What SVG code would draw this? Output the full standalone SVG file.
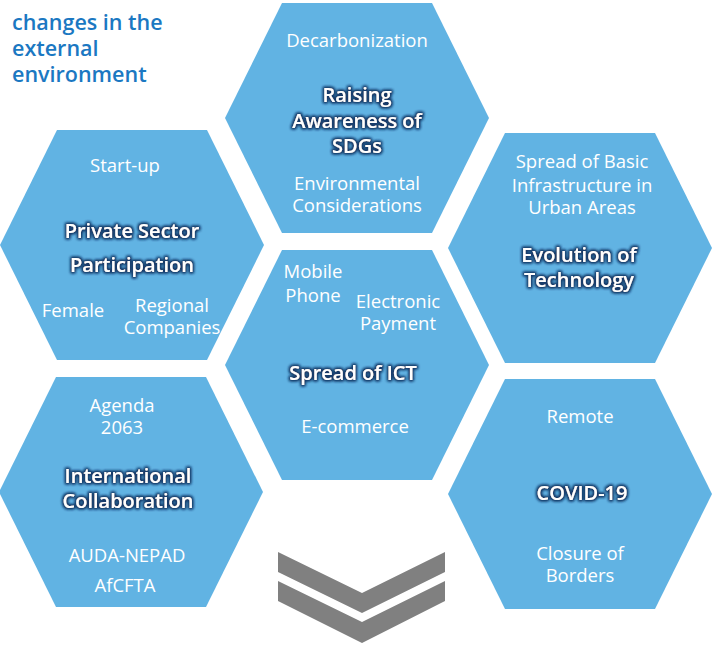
<svg xmlns="http://www.w3.org/2000/svg" width="714" height="645" viewBox="0 0 714 645">
<style>
.hex{fill:#61B3E3;}
.sub{font-family:"Open Sans","Liberation Sans",sans-serif;font-size:18.5px;fill:#ffffff;text-anchor:middle;}
.main{font-family:"Open Sans","Liberation Sans",sans-serif;font-size:20px;font-weight:600;fill:#ffffff;text-anchor:middle;filter:url(#glow);}
.title{font-family:"Open Sans","Liberation Sans",sans-serif;font-size:21.5px;font-weight:600;fill:#1B78C2;}
.chev{fill:#808080;}
</style>
<defs>
<polygon id="hexshape" points="-132,0 -75,-115 75,-115 132,0 75,115 -75,115"/>
<filter id="glow" x="-15%" y="-40%" width="130%" height="180%">
<feMorphology in="SourceAlpha" operator="dilate" radius="1.4" result="d"/>
<feGaussianBlur in="d" stdDeviation="1.4" result="b"/>
<feFlood flood-color="#173a68"/>
<feComposite in2="b" operator="in" result="g"/>
<feMerge><feMergeNode in="g"/><feMergeNode in="g"/><feMergeNode in="SourceGraphic"/></feMerge>
</filter>
</defs>
<rect width="714" height="645" fill="#ffffff"/>
<g id="title">
<text class="title" x="12" y="30">changes in the</text>
<text class="title" x="12" y="56">external</text>
<text class="title" x="12" y="82">environment</text>
</g>
<g id="sdgs">
<use href="#hexshape" class="hex" transform="translate(357,118)"/>
<text class="sub" x="357" y="47">Decarbonization</text>
<text class="main" x="357" y="102">Raising</text>
<text class="main" x="357" y="128">Awareness of</text>
<text class="main" x="357" y="153">SDGs</text>
<text class="sub" x="357" y="190">Environmental</text>
<text class="sub" x="357" y="212">Considerations</text>
</g>
<g id="private">
<use href="#hexshape" class="hex" transform="translate(132,245)"/>
<text class="sub" x="125" y="172">Start-up</text>
<text class="main" x="132" y="238">Private Sector</text>
<text class="main" x="132" y="272">Participation</text>
<text class="sub" x="73" y="317">Female</text>
<text class="sub" x="172" y="312">Regional</text>
<text class="sub" x="172" y="334">Companies</text>
</g>
<g id="technology">
<use href="#hexshape" class="hex" transform="translate(580,248)"/>
<text class="sub" x="582" y="168">Spread of Basic</text>
<text class="sub" x="582" y="192">Infrastructure in</text>
<text class="sub" x="582" y="214">Urban Areas</text>
<text class="main" x="579" y="262">Evolution of</text>
<text class="main" x="579" y="287">Technology</text>
</g>
<g id="ict">
<use href="#hexshape" class="hex" transform="translate(357,365)"/>
<text class="sub" x="313" y="278">Mobile</text>
<text class="sub" x="313" y="302">Phone</text>
<text class="sub" x="398" y="308">Electronic</text>
<text class="sub" x="398" y="330">Payment</text>
<text class="main" x="353" y="380">Spread of ICT</text>
<text class="sub" x="355" y="433">E-commerce</text>
</g>
<g id="international">
<use href="#hexshape" class="hex" transform="translate(131,492)"/>
<text class="sub" x="122" y="412">Agenda</text>
<text class="sub" x="122" y="434">2063</text>
<text class="main" x="128" y="483">International</text>
<text class="main" x="128" y="508">Collaboration</text>
<text class="sub" x="127" y="562">AUDA-NEPAD</text>
<text class="sub" x="125" y="592">AfCFTA</text>
</g>
<g id="covid">
<use href="#hexshape" class="hex" transform="translate(580,494)"/>
<text class="sub" x="580" y="423">Remote</text>
<text class="main" x="582" y="500">COVID-19</text>
<text class="sub" x="580" y="560">Closure of</text>
<text class="sub" x="580" y="582">Borders</text>
</g>
<g id="connectors">
<polygon class="chev" points="278,552 362,593 445,552 445,572 362,613 278,572"/>
<polygon class="chev" points="278,581 362,622 445,581 445,601 362,643 278,601"/>
</g>
</svg>
